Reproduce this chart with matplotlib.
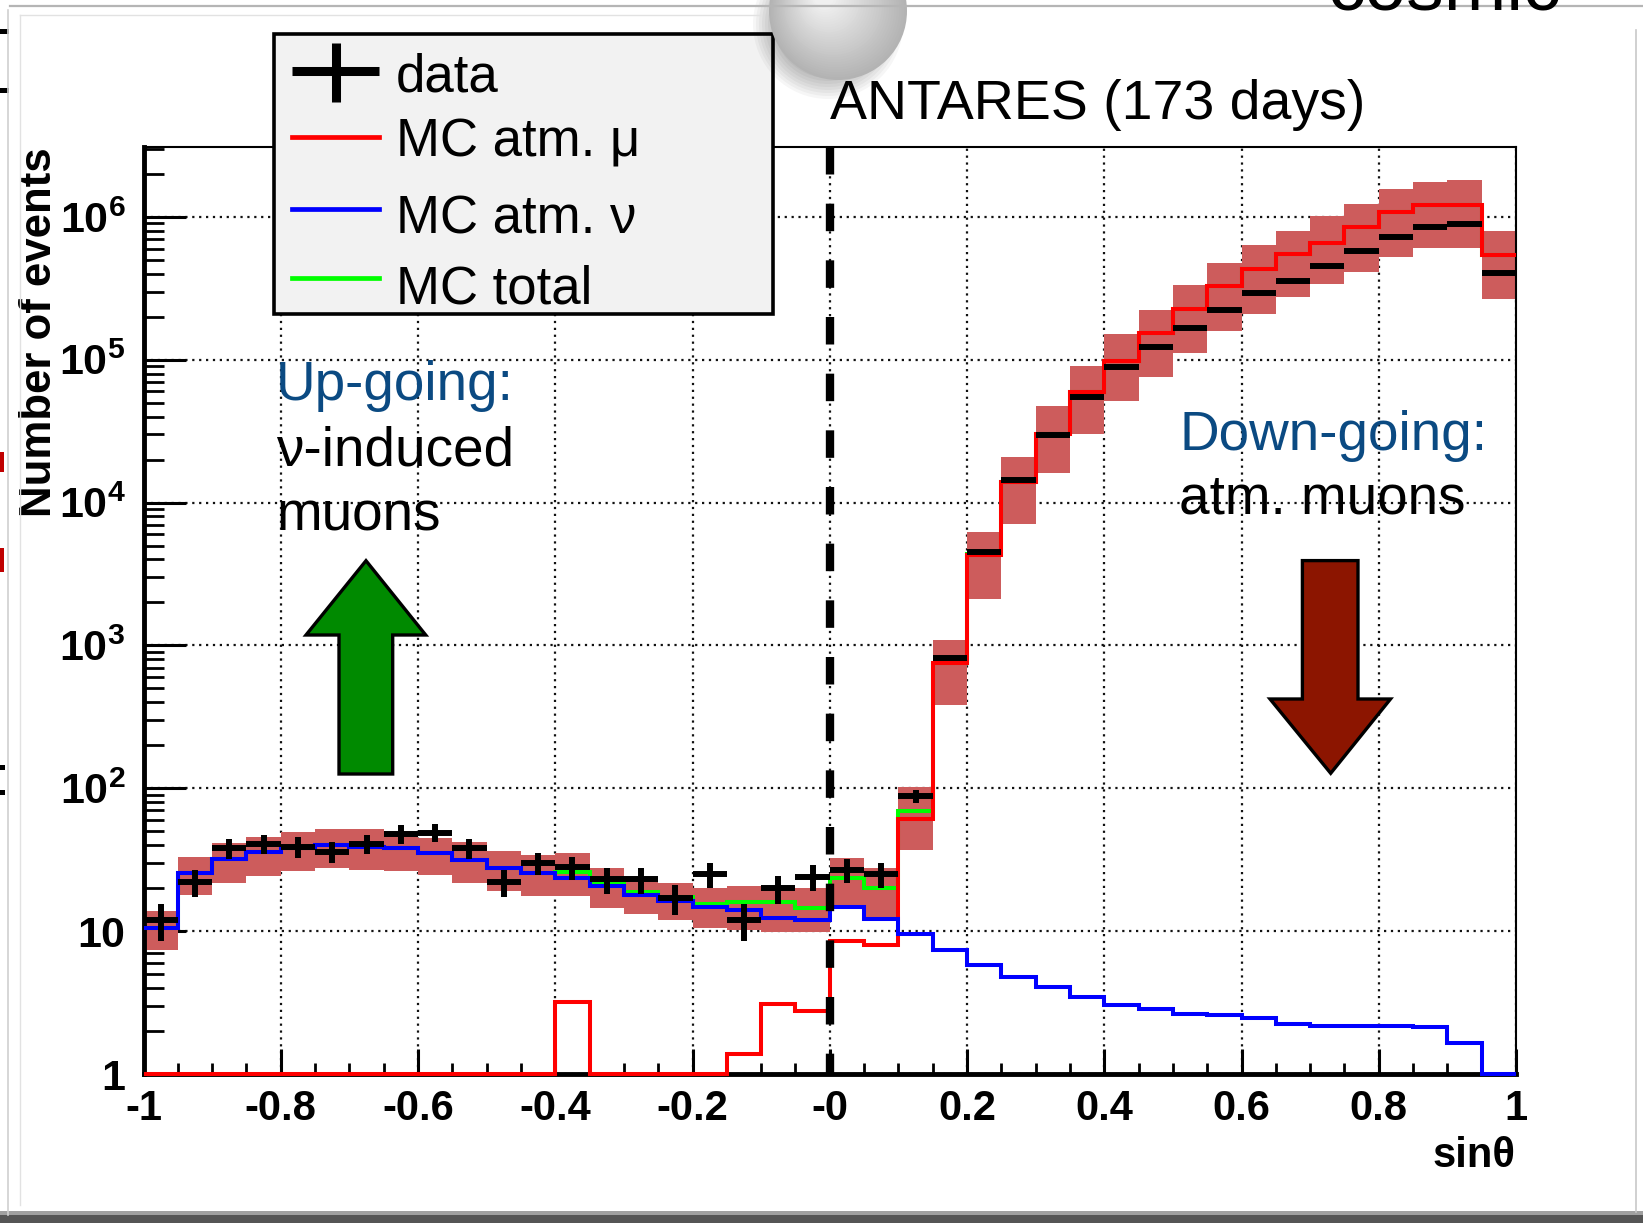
import numpy as np
import matplotlib
matplotlib.use("Agg")
import matplotlib.pyplot as plt
from matplotlib.patches import Rectangle, Polygon, Circle, Ellipse
from matplotlib.ticker import FixedLocator, LogLocator, MultipleLocator

plt.rcParams['font.family'] = ['Liberation Sans', 'DejaVu Sans']
plt.rcParams['mathtext.fontset'] = 'custom'
plt.rcParams['mathtext.rm'] = 'Liberation Sans'
plt.rcParams['mathtext.bf'] = 'Liberation Sans:bold'

# ---- histogram content: 40 bins in sin(theta) from -1 to 1 ----
bin_edges = np.linspace(-1.0, 1.0, 41)

mc_atm_nu = [10.6, 25.6, 31.8, 35.6, 38.4, 39.8, 39.0, 38.4, 35.0, 31.5,
             27.8, 25.4, 23.4, 20.8, 17.9, 16.2, 14.8, 14.0, 12.4, 11.9,
             14.7, 12.1, 9.5, 7.4, 5.8, 4.8, 4.07, 3.47, 3.06, 2.84,
             2.65, 2.57, 2.46, 2.25, 2.17, 2.17, 2.17, 2.12, 1.64, 0.0]

mc_atm_mu = [0, 0, 0, 0, 0, 0, 0, 0, 0, 0,
             0, 0, 3.2, 0, 0, 0, 0, 1.37, 3.1, 2.75,
             8.6, 8.0, 61, 750, 4330, 13900, 30300, 59100, 97300, 1.53e5,
             2.25e5, 3.28e5, 4.3e5, 5.47e5, 6.59e5, 8.47e5, 1.08e6, 1.21e6, 1.21e6, 5.37e5]

mc_total = [10.6, 25.6, 31.8, 35.6, 38.4, 39.8, 39.0, 38.4, 35.0, 31.5,
            27.8, 25.4, 26.0, 21.5, 18.7, 17.4, 15.6, 16.1, 16.1, 14.6,
            23.4, 20.1, 69, 757, 4340, 13900, 30300, 59100, 97300, 1.53e5,
            2.25e5, 3.28e5, 4.3e5, 5.47e5, 6.59e5, 8.47e5, 1.08e6, 1.21e6, 1.21e6, 5.37e5]

data_counts = [12, 22, 38, 41, 39, 36, 41, 48, 49, 38,
               22, 30, 28, 23, 23, 17, 25, 12, 20, 24,
               27, 25, 88, 820, 4510, 14450, 29500, 54600, 89300, 1.23e5,
               1.68e5, 2.22e5, 2.92e5, 3.56e5, 4.53e5, 5.77e5, 7.24e5, 8.47e5, 8.93e5, 4.03e5]

# systematic uncertainty band of the MC (lower / upper edge per bin)
band_low = [7.43, 17.9, 21.6, 24.3, 26.4, 27.5, 26.8, 26.4, 24.7, 21.6,
            19.1, 17.7, 17.7, 14.6, 13.1, 11.9, 10.5, 10.2, 9.9, 9.8,
            14.8, 12.3, 37.2, 384, 2100, 7130, 16100, 30300, 51200, 75300,
            1.11e5, 1.59e5, 2.08e5, 2.77e5, 3.37e5, 4.13e5, 5.24e5, 6.08e5, 6.08e5, 2.68e5]
band_high = [13.8, 33.2, 41.1, 45.8, 49.7, 51.6, 51.6, 50.1, 44.7, 42.3,
             36.4, 34.1, 35.0, 27.5, 23.7, 21.6, 20.1, 20.8, 20.5, 19.9,
             32.3, 27.5, 102, 1090, 6210, 21000, 47800, 90800, 1.51e5, 2.23e5,
             3.32e5, 4.78e5, 6.31e5, 7.94e5, 1.01e6, 1.23e6, 1.57e6, 1.75e6, 1.82e6, 7.94e5]

x_tick_values = [-1.0, -0.8, -0.6, -0.4, -0.2, 0.0, 0.2, 0.4, 0.6, 0.8, 1.0]
x_tick_labels = ["-1", "-0.8", "-0.6", "-0.4", "-0.2", "-0", "0.2", "0.4", "0.6", "0.8", "1"]
y_tick_values = [1, 10, 1e2, 1e3, 1e4, 1e5, 1e6]
y_tick_labels = ["1", "10", r"$\mathbf{10^{2}}$", r"$\mathbf{10^{3}}$", r"$\mathbf{10^{4}}$",
                 r"$\mathbf{10^{5}}$", r"$\mathbf{10^{6}}$"]

W, H = 1643, 1223
fig = plt.figure(figsize=(W / 100, H / 100), dpi=100, facecolor='white')

# ---- main histogram frame ----
x0, x1, y_top, y_bot = 143.5, 1516.0, 146.7, 1074.0
ax = fig.add_axes([x0 / W, (H - y_bot) / H, (x1 - x0) / W, (y_bot - y_top) / H])
ax.set_xlim(-1, 1)
ax.set_yscale('log')
ax.set_ylim(1, 3.1e6)
ax.set_axisbelow(True)

centers = 0.5 * (bin_edges[:-1] + bin_edges[1:])
widths = np.diff(bin_edges)
lo = np.array(band_low)
hi = np.array(band_high)
ax.bar(centers, hi - lo, bottom=lo, width=widths, color='#cd5c5c', linewidth=0, zorder=1.5)

lw_hist = 2.9
ax.stairs(np.clip(mc_total, 1, None), bin_edges, baseline=None, color='#00ff00',
          lw=lw_hist, zorder=3, clip_on=False)
ax.stairs(np.clip(mc_atm_mu, 1, None), bin_edges, baseline=None, color='#ff0000',
          lw=lw_hist, zorder=3.2, clip_on=False)
ax.stairs(np.clip(mc_atm_nu, 1, None), bin_edges, baseline=None, color='#0000ff',
          lw=lw_hist, zorder=3.4, clip_on=False)

dc = np.array(data_counts, dtype=float)
ax.errorbar(centers, dc, xerr=widths / 2, yerr=np.sqrt(dc), fmt='none', ecolor='black',
            elinewidth=4.3, capsize=0, zorder=5)

# horizon line between up-going and down-going events
ax.plot([0, 0], [3.1e6, 1], color='black', lw=6, linestyle=(0, (3.3, 3.5)),
        zorder=6, solid_capstyle='butt', dash_capstyle='butt')

ax.grid(True, which='major', color='#111111', lw=1.6, linestyle=(0, (1, 2.1)))

ax.xaxis.set_major_locator(FixedLocator(x_tick_values))
ax.xaxis.set_minor_locator(MultipleLocator(0.05))
ax.set_xticklabels(x_tick_labels, fontsize=30, fontweight='bold')
ax.yaxis.set_major_locator(FixedLocator(y_tick_values))
ax.yaxis.set_minor_locator(LogLocator(base=10, subs=np.arange(2, 10), numticks=20))
ax.yaxis.set_minor_formatter(plt.NullFormatter())
ax.set_yticklabels(y_tick_labels, fontsize=31, fontweight='bold')

ax.tick_params(axis='y', which='major', direction='in', length=30, width=2.2, pad=13,
               left=True, right=False)
ax.tick_params(axis='y', which='minor', direction='in', length=14.5, width=2.0,
               left=True, right=False)
ax.tick_params(axis='x', which='major', direction='in', length=18, width=2.2, pad=11,
               bottom=True, top=False)
ax.tick_params(axis='x', which='minor', direction='in', length=8, width=2.0,
               bottom=True, top=False)

for side in ('left', 'bottom'):
    ax.spines[side].set_linewidth(3.5)
for side in ('top', 'right'):
    ax.spines[side].set_linewidth(1.5)

fig.text(40 / W, 1 - 147 / H, "Number of events", rotation=90, ha='center', va='top',
         fontsize=31.5, fontweight='bold')
fig.text(1516 / W, 1 - 1156 / H, "sin\u03b8", ha='right', va='center',
         fontsize=30, fontweight='bold')

# ---- overlay in pixel coordinates for annotations ----
ov = fig.add_axes([0, 0, 1, 1], zorder=10)
ov.set_xlim(0, W)
ov.set_ylim(H, 0)
ov.axis('off')
ov.patch.set_alpha(0)

# page edges
ov.plot([10, W], [6, 6], color='#b5b5b5', lw=1.6)
ov.plot([20, 760], [15, 15], color='#e2e2e2', lw=1.0)
ov.plot([20, 20], [15, 1205], color='#e2e2e2', lw=1.0)
ov.plot([8, 8], [10, 1215], color='#d0d0d0', lw=1.2)
ov.plot([1636, 1636], [30, 1212], color='#c8c8c8', lw=1.2)
ov.add_patch(Rectangle((0, 1215), W, 8, facecolor='#555555', edgecolor='none'))
ov.add_patch(Rectangle((0, 1211), W, 4, facecolor='#a0a0a0', edgecolor='none'))
ov.add_patch(Rectangle((0, 29), 9, 5, facecolor='black', edgecolor='none'))
ov.add_patch(Rectangle((0, 88), 9, 5, facecolor='black', edgecolor='none'))
ov.add_patch(Rectangle((0, 452), 4, 20, facecolor='#c00000', edgecolor='none'))
ov.add_patch(Rectangle((0, 548), 4, 24, facecolor='#c00000', edgecolor='none'))
ov.add_patch(Rectangle((0, 765), 5, 5, facecolor='black', edgecolor='none'))
ov.add_patch(Rectangle((0, 790), 5, 5, facecolor='black', edgecolor='none'))
ov.text(1328, 10, "cosmic", fontsize=54, color='black', ha='left', va='baseline')

# legend
ov.add_patch(Rectangle((274, 34), 499, 280, facecolor='#f2f2f2', edgecolor='black', lw=2.6))
ov.plot([292, 379], [70.7, 70.7], color='black', lw=6.5, solid_capstyle='butt')
ov.plot([335.5, 335.5], [42.7, 101.7], color='black', lw=6.5, solid_capstyle='butt')
ov.plot([292, 379], [137.3, 137.3], color='#ff0000', lw=3.4)
ov.plot([292, 379], [209.3, 209.3], color='#0000ff', lw=3.4)
ov.plot([292, 379], [278.3, 278.3], color='#00ff00', lw=3.4)
leg_fs = 38
ov.text(396, 91.7, "data", fontsize=leg_fs, va='baseline')
ov.text(396, 156.7, "MC atm. \u03bc", fontsize=leg_fs, va='baseline')
ov.text(396, 233.3, "MC atm. \u03bd", fontsize=leg_fs, va='baseline')
ov.text(396, 303.3, "MC total", fontsize=leg_fs, va='baseline')

ov.text(830, 119.3, "ANTARES (173 days)", fontsize=40, va='baseline')

# region labels
label_blue = '#0b4a82'
txt_fs = 39.5
ov.text(276, 400, "Up-going:", fontsize=txt_fs, color=label_blue, va='baseline')
ov.text(276, 466, "\u03bd-induced", fontsize=txt_fs, color='black', va='baseline')
ov.text(276, 530.7, "muons", fontsize=txt_fs, color='black', va='baseline')
ov.text(1179, 450, "Down-going:", fontsize=txt_fs, color=label_blue, va='baseline')
ov.text(1179, 513.3, "atm. muons", fontsize=txt_fs, color='black', va='baseline')

# direction arrows
up_arrow = [(339, 774), (339, 635), (306, 635), (366, 560.7), (425.7, 635),
            (392.7, 635), (392.7, 774)]
ov.add_patch(Polygon(up_arrow, closed=True, facecolor='#008a00', edgecolor='black',
                     lw=2.4, joinstyle='miter'))
down_arrow = [(1302.4, 560.6), (1358, 560.6), (1358, 699), (1390.5, 699),
              (1330.7, 773.3), (1270, 699), (1302.4, 699)]
ov.add_patch(Polygon(down_arrow, closed=True, facecolor='#8c1500', edgecolor='black',
                     lw=2.4, joinstyle='miter'))

# pushpin
for k in range(8):
    ov.add_patch(Ellipse((828, 24), 150 - 6 * k, 150 - 6 * k, facecolor='black',
                         alpha=0.035, edgecolor='none'))
n_layers = 30
for i in range(n_layers):
    t = i / (n_layers - 1)
    r = 69 * (1 - 0.85 * t)
    g = 0.70 + 0.24 * t
    cx = 838 - 14 * t
    cy = 11 - 14 * t
    ov.add_patch(Circle((cx, cy), r, facecolor=(g, g, g), edgecolor='none'))

fig.savefig("out.png", dpi=100, facecolor='white')
